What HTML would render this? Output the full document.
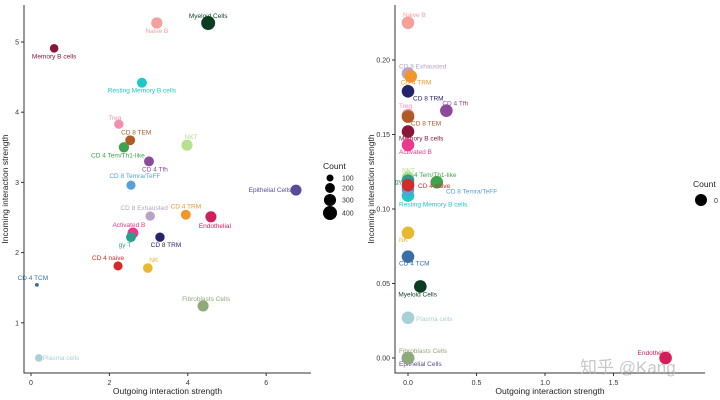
<!DOCTYPE html>
<html><head><meta charset="utf-8">
<style>
body{margin:0;background:#fff;}
svg{display:block;font-family:"Liberation Sans",Arial,sans-serif;}
</style></head>
<body>
<svg id="c" width="720" height="400" viewBox="0 0 720 400"></svg>
<script>
const names=["Myeloid Cells","Naive B","Memory B cells","Resting Memory B cells","Treg","CD 8 TEM","CD 4 Tem/Th1-like","NKT","CD 4 Tfh","CD 8 Temra/TeFF","Epithelial Cells","CD 8 Exhausted","CD 4 TRM","Endothelial","Activated B","gγ T","CD 8 TRM","CD 4 naive","NK","CD 4 TCM","Fibroblasts Cells","Plasma cells"];
const colors=["#0b3d23","#f4a09c","#8b1538","#1fc7c7","#f08fb0","#b05a28","#3fa34d","#b5e08e","#8b4a9c","#5aa0d8","#5a4a9a","#b8a3c8","#f0962a","#d21f5a","#e8398a","#2a9d8f","#24246a","#d32a2a","#e8b830","#3a6ea5","#8faa7a","#a8d0d8"];
const leftOut=[4.52,3.21,0.59,2.83,2.24,2.53,2.37,3.98,3.01,2.55,6.76,3.04,3.95,4.59,2.60,2.55,3.29,2.22,2.98,0.15,4.39,0.20];
const leftIn=[5.27,5.27,4.91,4.42,3.83,3.60,3.50,3.53,3.30,2.96,2.89,2.52,2.54,2.51,2.28,2.22,2.22,1.81,1.78,1.54,1.24,0.50];
const leftCount=[400,260,150,200,180,200,220,250,200,170,250,180,200,250,240,200,180,170,190,30,250,120];
const rightOut=[0.09,0,0,0,0,0,0.21,0,0.28,0,0,0,0.02,1.88,0,0,0,0,0,0,0,0];
const rightIn=[0.048,0.225,0.152,0.109,0.163,0.162,0.118,0.121,0.166,0.113,0,0.191,0.189,0,0.143,0.119,0.179,0.116,0.084,0.068,0,0.027];
const rightCount=[0,0,0,0,0,0,0,0,0,0,0,0,0,0,0,0,0,0,0,0,0,0];
const leftXTicks=[0,2,4,6], leftYTicks=[1,2,3,4,5];
const rightXTicks=[0,0.5,1,1.5], rightYTicks=[0,0.05,0.10,0.15,0.20];
const rightYTickLabels=["0.00","0.05","0.10","0.15","0.20"], rightXTickLabels=["0.0","0.5","1.0","1.5"];
const legendCounts=[100,200,300,400];
// label offsets (layout, not data)
const leftLab=[[0,-5,"middle"],[0,10,"middle"],[0,10,"middle"],[0,10,"middle"],[-4,-4,"middle"],[6,-6,"middle"],[-6,10,"middle"],[4,-6,"middle"],[6,10,"middle"],[4,-7,"middle"],[-26,2,"middle"],[-6,-6,"middle"],[0,-6,"middle"],[4,11,"middle"],[-4,-6,"middle"],[-6,10,"middle"],[6,10,"middle"],[-10,-6,"middle"],[6,-6,"middle"],[-4,-5,"middle"],[3,-5,"middle"],[4,2,"start"]];
const rightLab=[[-22,10,"start"],[-5,-6,"start"],[-9,9,"start"],[-9,11,"start"],[-9,-7,"start"],[3,9,"start"],[-34,-5,"start"],[-6,-5,"start"],[-4,-5,"start"],[38,4,"start"],[-9,8,"start"],[-9,-5,"start"],[-10,8,"start"],[-28,-3,"start"],[-9,9,"start"],[-13,3,"start"],[5,9,"start"],[10,3,"start"],[-9,9,"start"],[-9,9,"start"],[-9,-5,"start"],[8,3,"start"]];
const svg=document.getElementById('c');
const NS="http://www.w3.org/2000/svg";
function mk(tag,attrs,parent){const e=document.createElementNS(NS,tag);for(const k in attrs)e.setAttribute(k,attrs[k]);(parent||svg).appendChild(e);return e;}
function panel(p){
  const g=mk('g',{});
  
  
  const sx=v=>p.x0+(v-p.xv0)*p.kx, sy=v=>p.y0-(v-p.yv0)*p.ky;
  const ax=mk('path',{d:`M${p.L},${p.T}V${p.B}H${p.R}`,stroke:'#333',fill:'none','stroke-width':1},g);
  
  
  p.xt.forEach((v,i)=>{const x=sx(v);mk('line',{x1:x,x2:x,y1:p.B,y2:p.B+3,stroke:'#333'},g);
    const t=mk('text',{x:x,y:p.B+12,'font-size':7,'text-anchor':'middle',fill:'#333'},g);t.textContent=p.xl[i];
    
    });
  p.yt.forEach((v,i)=>{const y=sy(v);mk('line',{x1:p.L-3,x2:p.L,y1:y,y2:y,stroke:'#333'},g);
    const t=mk('text',{x:p.L-5,y:y+2.5,'font-size':7,'text-anchor':'end',fill:'#333'},g);t.textContent=p.yl[i];
    
    });
  let t=mk('text',{x:(p.L+p.R)/2,y:394,'font-size':8.5,'text-anchor':'middle',fill:'#222'},g);t.textContent='Outgoing interaction strength';
  
  
  t=mk('text',{x:0,y:0,'font-size':8.5,'text-anchor':'middle',fill:'#222',transform:`translate(${p.L-p.yto},${(p.T+p.B)/2}) rotate(-90)`},g);t.textContent='Incoming interaction strength';
  
  
  names.forEach((n,i)=>{const x=sx(p.xs[i]),y=sy(p.ys[i]);
    const c=mk('circle',{cx:x,cy:y,r:p.r(p.cs[i]),fill:colors[i]},g);
    
    
    const o=p.lab[i];
    const l=mk('text',{x:x+o[0],y:y+o[1],'font-size':6.5,'text-anchor':o[2],fill:colors[i]},g);l.textContent=n;
    
    });
}
const rl=c=>Math.max(1.8,0.35*Math.sqrt(c));
panel({id:'left-panel',L:24,R:311,T:5,B:373,x0:31,xv0:0,kx:39.2,y0:393,yv0:0,ky:70.2,xt:leftXTicks,xl:leftXTicks.map(String),yt:leftYTicks,yl:leftYTicks.map(String),xs:leftOut,ys:leftIn,cs:leftCount,r:rl,lab:leftLab,yto:16});
panel({id:'right-panel',L:395,R:705,T:5,B:373,x0:408,xv0:0,kx:137,y0:358,yv0:0,ky:1490,xt:rightXTicks,xl:rightXTickLabels,yt:rightYTicks,yl:rightYTickLabels,xs:rightOut,ys:rightIn,cs:rightCount,r:()=>6.3,lab:rightLab,yto:21});
// legends
let t=mk('text',{x:323,y:169,'font-size':8.5,fill:'#222'});t.textContent='Count';


const ly=[178,188,200,213];
legendCounts.forEach((c,i)=>{const d=mk('circle',{cx:330,cy:ly[i],r:rl(c),fill:'#000'});
  
  
  const l=mk('text',{x:342,y:ly[i]+2.5,'font-size':7,fill:'#333'});l.textContent=c;
  
  });
t=mk('text',{x:693,y:187,'font-size':8.5,fill:'#222'});t.textContent='Count';


const d=mk('circle',{cx:701,cy:200,r:6,fill:'#000'});


t=mk('text',{x:714,y:203,'font-size':7,fill:'#333'});t.textContent='0';


t=mk('text',{x:580,y:373,'font-size':17,fill:'#bbb',opacity:0.8,'font-family':'"Liberation Sans","Noto Sans CJK SC",sans-serif'});t.textContent='知乎 @Kang';


</script>
</body></html>
